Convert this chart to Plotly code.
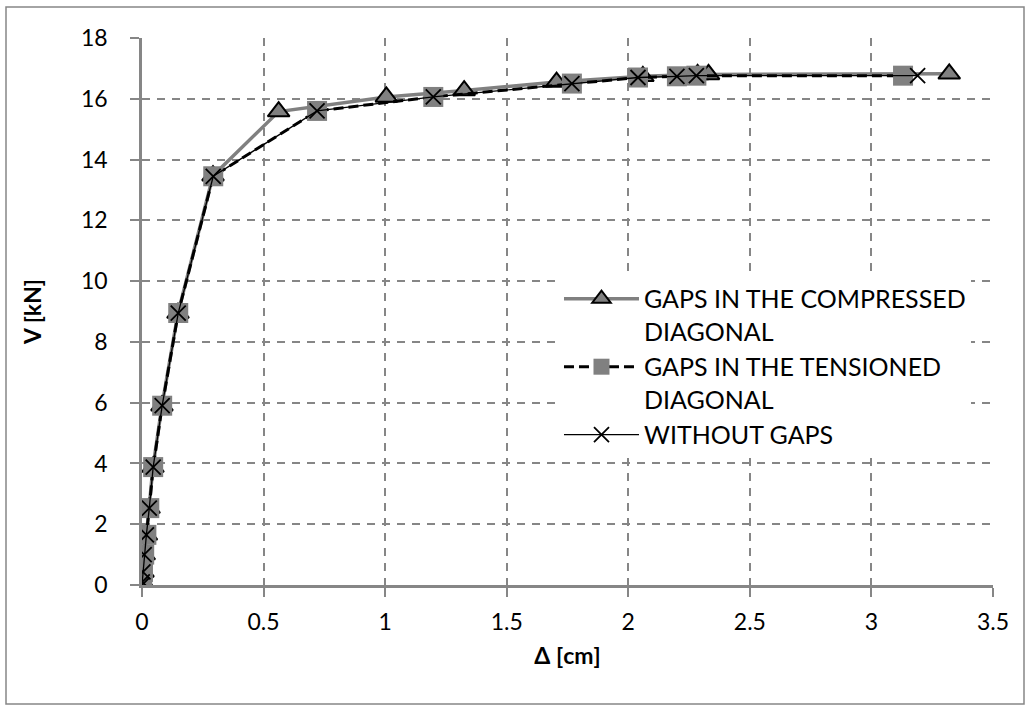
import plotly.graph_objects as go

# Series 1: gaps in the compressed diagonal
x_comp = [0, 0.001, 0.004, 0.009, 0.018, 0.029, 0.045, 0.082, 0.148, 0.292, 0.562, 1.005, 1.325, 1.705, 2.06, 2.285, 2.33, 3.32]
y_comp = [0, 0.1, 0.43, 1.0, 1.65, 2.53, 3.88, 5.9, 8.95, 13.47, 15.58, 16.06, 16.27, 16.55, 16.74, 16.8, 16.8, 16.82]

# Series 2: gaps in the tensioned diagonal
x_tens = [0, 0.001, 0.004, 0.009, 0.018, 0.030, 0.046, 0.083, 0.149, 0.293, 0.72, 1.198, 1.768, 2.04, 2.20, 2.28, 3.13]
y_tens = [0, 0.1, 0.43, 1.0, 1.65, 2.53, 3.88, 5.9, 8.95, 13.45, 15.6, 16.06, 16.5, 16.7, 16.74, 16.76, 16.76]

# Series 3: without gaps
x_none = [0, 0.001, 0.004, 0.009, 0.018, 0.030, 0.046, 0.083, 0.149, 0.293, 0.72, 1.198, 1.768, 2.04, 2.20, 2.28, 3.19]
y_none = [0, 0.1, 0.43, 1.0, 1.65, 2.53, 3.88, 5.9, 8.95, 13.45, 15.6, 16.06, 16.5, 16.7, 16.74, 16.76, 16.76]

names = ["GAPS IN THE COMPRESSED<br>DIAGONAL", "GAPS IN THE TENSIONED<br>DIAGONAL", "WITHOUT GAPS"]

x_ticks = [0, 0.5, 1, 1.5, 2, 2.5, 3, 3.5]
x_ticktext = ["0", "0.5", "1", "1.5", "2", "2.5", "3", "3.5"]
y_ticks = [0, 2, 4, 6, 8, 10, 12, 14, 16, 18]

GREY = "#808080"
AXIS = "#868686"
FONT = "Lato"
FS = 23

fig = go.Figure()
fig.add_trace(go.Scatter(
    x=x_comp, y=y_comp, name=names[0], mode="lines+markers",
    line=dict(color=GREY, width=3.5),
    marker=dict(symbol="triangle-up", size=19, color=GREY, line=dict(color="black", width=2)),
))
fig.add_trace(go.Scatter(
    x=x_tens, y=y_tens, name=names[1], mode="lines+markers",
    line=dict(color="black", width=3, dash="10px,5px"),
    marker=dict(symbol="square", size=20, color=GREY, line=dict(width=0)),
))
fig.add_trace(go.Scatter(
    x=x_none, y=y_none, name=names[2], mode="lines+markers",
    line=dict(color="black", width=1.3),
    marker=dict(symbol="x-thin", size=15, color="black", line=dict(color="black", width=1.8)),
))

fig.update_layout(
    width=1031, height=711,
    margin=dict(l=142, r=38, t=38, b=126),
    paper_bgcolor="white", plot_bgcolor="white",
    font=dict(family=FONT, size=FS, color="black"),
    showlegend=True,
    legend=dict(
        x=0.49, y=0.565, xanchor="left", yanchor="top",
        bgcolor="white", borderwidth=0,
        font=dict(family=FONT, size=25, color="black"),
        valign="top", itemwidth=75, tracegroupgap=0,
    ),
    xaxis=dict(
        range=[0, 3.5], tickvals=x_ticks, ticktext=x_ticktext,
        showline=True, linecolor=AXIS, linewidth=2.5,
        showgrid=True, gridcolor=AXIS, gridwidth=1.5, griddash="8px,7px",
        ticks="outside", ticklen=9, tickwidth=2, tickcolor=AXIS,
        zeroline=False, ticklabelstandoff=6,
        title=dict(text="<b>Δ [cm]</b>", font=dict(family=FONT, size=FS), standoff=14),
    ),
    yaxis=dict(
        range=[0, 18], tickvals=y_ticks,
        showline=True, linecolor=AXIS, linewidth=2.5,
        showgrid=True, gridcolor=AXIS, gridwidth=1.5, griddash="8px,7px",
        ticks="outside", ticklen=9, tickwidth=2, tickcolor=AXIS,
        zeroline=False, ticklabelstandoff=18,
        title=dict(text="<b>V [kN]</b>", font=dict(family=FONT, size=FS), standoff=33),
    ),
    shapes=[dict(
        type="rect", xref="paper", yref="paper",
        x0=(6 - 142) / 851, x1=(1024 - 142) / 851,
        y0=(585 - 704) / 547, y1=(585 - 7) / 547,
        line=dict(color=AXIS, width=1.5), fillcolor="rgba(0,0,0,0)", layer="below",
    )],
)

fig.write_html("out.html")
